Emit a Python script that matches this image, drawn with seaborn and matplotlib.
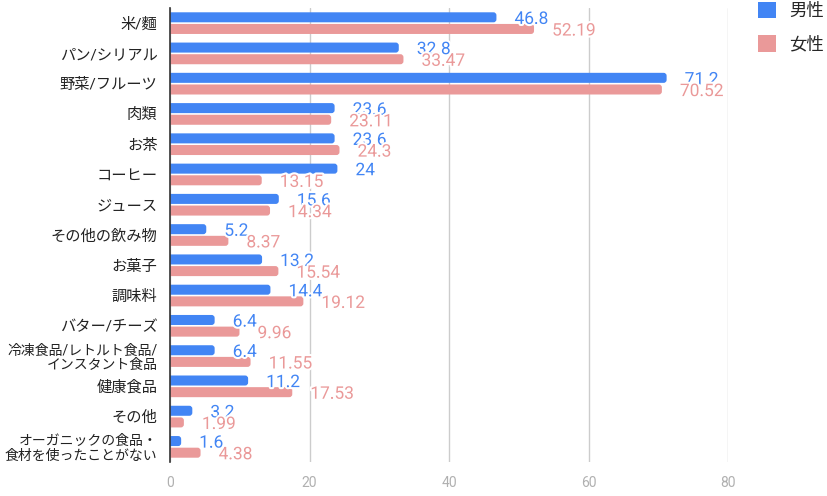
import numpy as np
import pandas as pd
import seaborn as sns
import matplotlib
matplotlib.use("Agg")
import matplotlib.pyplot as plt
import matplotlib.patheffects as pe
from matplotlib.patches import Patch, FancyBboxPatch

# data
categories = ["米/麵", "パン/シリアル", "野菜/フルーツ", "肉類", "お茶", "コーヒー",
              "ジュース", "その他の飲み物", "お菓子", "調味料", "バター/チーズ",
              "冷凍食品/レトルト食品/\nインスタント食品", "健康食品", "その他",
              "オーガニックの食品・\n食材を使ったことがない"]
male = [46.8, 32.8, 71.2, 23.6, 23.6, 24, 15.6, 5.2, 13.2, 14.4, 6.4, 6.4, 11.2, 3.2, 1.6]
female = [52.19, 33.47, 70.52, 23.11, 24.3, 13.15, 14.34, 8.37, 15.54, 19.12, 9.96,
          11.55, 17.53, 1.99, 4.38]
series = ["男性", "女性"]
colors = ["#4285f4", "#ea9999"]
xticks = [0, 20, 40, 60, 80]

df = pd.DataFrame({
    "cat": categories * 2,
    "value": male + female,
    "sex": [series[0]] * len(male) + [series[1]] * len(female),
})

sns.set_theme(style="white")
plt.rcParams["font.family"] = ["Roboto", "Noto Sans CJK JP", "DejaVu Sans"]

fig = plt.figure(figsize=(8.27, 4.96), dpi=100)
ax = fig.add_axes([170 / 827, 1 - 462 / 496, (728 - 170) / 827, (462 - 8) / 496])

sns.barplot(data=df, y="cat", x="value", hue="sex", palette=colors, orient="h",
            width=0.77, gap=0.14, ax=ax, legend=False, saturation=1)

ax.set_xlim(0, 80)
ax.set_ylim(len(categories) - 0.5, -0.5)
ax.set_xticks(xticks)
ax.xaxis.grid(True, color="#cccccc", linewidth=1)
ax.set_axisbelow(True)
for s in ["top", "right", "bottom"]:
    ax.spines[s].set_visible(False)
ax.spines["left"].set_color("#333333")
ax.spines["left"].set_linewidth(1.2)
ax.spines["left"].set_zorder(5)
ax.tick_params(axis="x", length=0, pad=10, labelsize=10, labelcolor="#b0b0b0")
ax.tick_params(axis="y", length=0, pad=9, labelcolor="#222222")
ax.set_xlabel("")
ax.set_ylabel("")
for lab in ax.get_yticklabels():
    if "\n" in lab.get_text():
        lab.set_fontsize(10)
        lab.set_linespacing(1.05)
    else:
        lab.set_fontsize(11)

# rounded right ends, like the original
px_x = (728 - 170) / 80.0      # pixels per x unit
px_y = (462 - 8) / 15.0        # pixels per category
r = 3.0 / px_x
for cont in ax.containers:
    for p in cont.patches:
        x0, y0, w, h = p.get_x(), p.get_y(), p.get_width(), p.get_height()
        fb = FancyBboxPatch((x0 - r, y0), w + r, h,
                            boxstyle=f"round,pad=0,rounding_size={r}",
                            mutation_aspect=px_x / px_y,
                            facecolor=p.get_facecolor(), edgecolor="none",
                            zorder=p.get_zorder())
        ax.add_patch(fb)
        p.set_visible(False)

# value labels
vals = [male, female]
for i, cont in enumerate(ax.containers):
    anns = ax.bar_label(cont, labels=[f"{v:g}" for v in vals[i]], padding=13,
                        color=colors[i], fontsize=12.5)
    for a in anns:
        a.xyann = (13, -1.5)
        a.set_path_effects([pe.withStroke(linewidth=3, foreground="white")])

handles = [Patch(facecolor=c, edgecolor="none") for c in colors]
fig.legend(handles, series, loc="upper left", bbox_to_anchor=(758 / 827, 1 - 2 / 496),
           frameon=False, fontsize=12.5, handlelength=1.05, handleheight=1.05,
           labelspacing=0.95, handletextpad=0.75, borderpad=0, borderaxespad=0)

fig.savefig("out.png", dpi=100)
